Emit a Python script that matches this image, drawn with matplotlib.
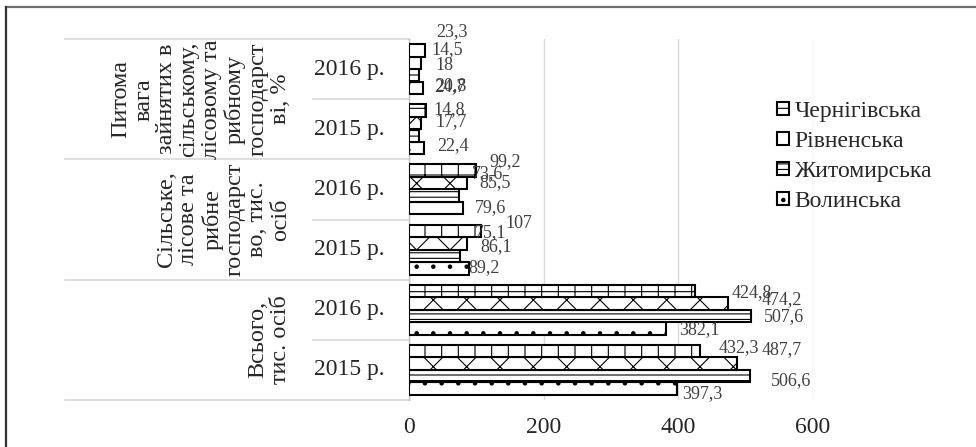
import matplotlib
matplotlib.use("Agg")
import matplotlib.pyplot as plt
import matplotlib.transforms as mtransforms
from matplotlib.lines import Line2D

plt.rcParams['font.family'] = ['Liberation Serif', 'DejaVu Serif']
plt.rcParams['hatch.linewidth'] = 0.8

# categories, bottom to top
groups = ["Всього,\nтис. осіб",
          "Сільське,\nлісове та\nрибне\nгосподарст\nво, тис.\nосіб",
          "Питома\nвага\nзайнятих в\nсільському,\nлісовому та\nрибному\nгосподарст\nві, %"]
years = ["2015 р.", "2016 р."]

series = ["Волинська", "Житомирська", "Рівненська", "Чернігівська"]
volyn = [397.3, 382.1, 89.2, 79.6, 22.4, 20.8]
zhytomyr = [506.6, 507.6, 75.1, 73.6, 14.8, 14.5]
rivne = [487.7, 474.2, 86.1, 85.5, 17.7, 18.0]
chernihiv = [432.3, 424.8, 107.0, 99.2, 24.7, 23.3]
values = [volyn, zhytomyr, rivne, chernihiv]

hatches = ['.', '---', 'x', '+']

# label offsets (pixels) as the labels were dragged in the original
label_off = [
    [(6, -5), (13, -1), (-1, 1), (12, 1), (13, 2), (12, 2)],
    [(21, -4), (13, -1), (15, 23), (13, 22), (14, 26), (13, 26)],
    [(24, 14), (33, 4), (13, -3), (13, 1), (14, 1), (14, -3)],
    [(19, 4), (37, -2), (24, 7), (14, 9), (9, 24), (12, 19)],
]

W, H = 976, 447
fig = plt.figure(figsize=(W / 100, H / 100), dpi=100)
x0, x1, ytop, ybot = 409, 813, 39, 400
ax = fig.add_axes([x0 / W, (H - ybot) / H, (x1 - x0) / W, (ybot - ytop) / H])

n_cat = len(groups) * len(years)
h = 0.2083
for k, (name, vals) in enumerate(zip(series, values)):
    pos = [i + (k - 1.5) * h for i in range(n_cat)]
    ax.barh(pos, vals, height=h, color='white', edgecolor='black',
            linewidth=1.5, hatch=hatches[k], label=name, zorder=3)
    for i, v in enumerate(vals):
        txt = f"{v:g}".replace('.', ',')
        ax.annotate(txt, xy=(v, pos[i]), xytext=label_off[k][i],
                    textcoords='offset pixels', ha='left', va='center',
                    fontsize=13, color='#404040', zorder=4)

ax.set_xlim(0, 600)
ax.set_ylim(-0.5, n_cat - 0.5)
ax.set_xticks([0, 200, 400, 600])
ax.set_yticks([])
ax.tick_params(axis='x', length=0, pad=12, labelsize=17, labelcolor='#262626')
ax.grid(axis='x', color='#d9d9d9', linewidth=1, zorder=0)
ax.set_axisbelow(True)
for s in ['top', 'right', 'bottom']:
    ax.spines[s].set_visible(False)
ax.spines['left'].set_color('#bfbfbf')
ax.spines['left'].set_linewidth(1)

# multi-level category labels
tr = mtransforms.blended_transform_factory(ax.transAxes, ax.transData)
left_outer = (65 - x0) / (x1 - x0)
left_inner = (313 - x0) / (x1 - x0)
grp_right = (291 - x0) / (x1 - x0)
yr_x = (349 - x0) / (x1 - x0)
lc = '#d9d9d9'
for g in range(len(groups) + 1):
    yb = g * 2 - 0.5
    ax.add_line(Line2D([left_outer, 0], [yb, yb], transform=tr, color=lc,
                       linewidth=1.2, clip_on=False))
for g, label in enumerate(groups):
    ym = g * 2 + 0.5
    ax.add_line(Line2D([left_inner, 0], [ym, ym], transform=tr, color=lc,
                       linewidth=1.2, clip_on=False))
    ax.text(grp_right, ym, label, transform=tr, rotation=90, ha='right',
            va='center', multialignment='center', fontsize=17.5,
            color='#262626', linespacing=1.1)
    for j, yl in enumerate(years):
        ax.text(yr_x, g * 2 + j, yl, transform=tr, ha='center', va='center',
                fontsize=17, color='#262626')

handles, labels = ax.get_legend_handles_labels()
ax.legend(handles[::-1], labels[::-1], loc='upper left',
          bbox_to_anchor=(777 / W, 1 - 101 / H), bbox_transform=fig.transFigure,
          frameon=False, fontsize=17, handlelength=0.5, handleheight=0.5,
          handletextpad=0.25, labelspacing=0.38, borderpad=0, borderaxespad=0,
          labelcolor='#262626')

# outer chart border (top and left visible)
fig.add_artist(Line2D([6 / W, 1], [1 - 7 / H, 1 - 7 / H], transform=fig.transFigure,
                      color='#707070', linewidth=1.6))
fig.add_artist(Line2D([6 / W, 6 / W], [0, 1 - 7 / H], transform=fig.transFigure,
                      color='#333333', linewidth=1.6))

fig.savefig('out.png', dpi=100)
